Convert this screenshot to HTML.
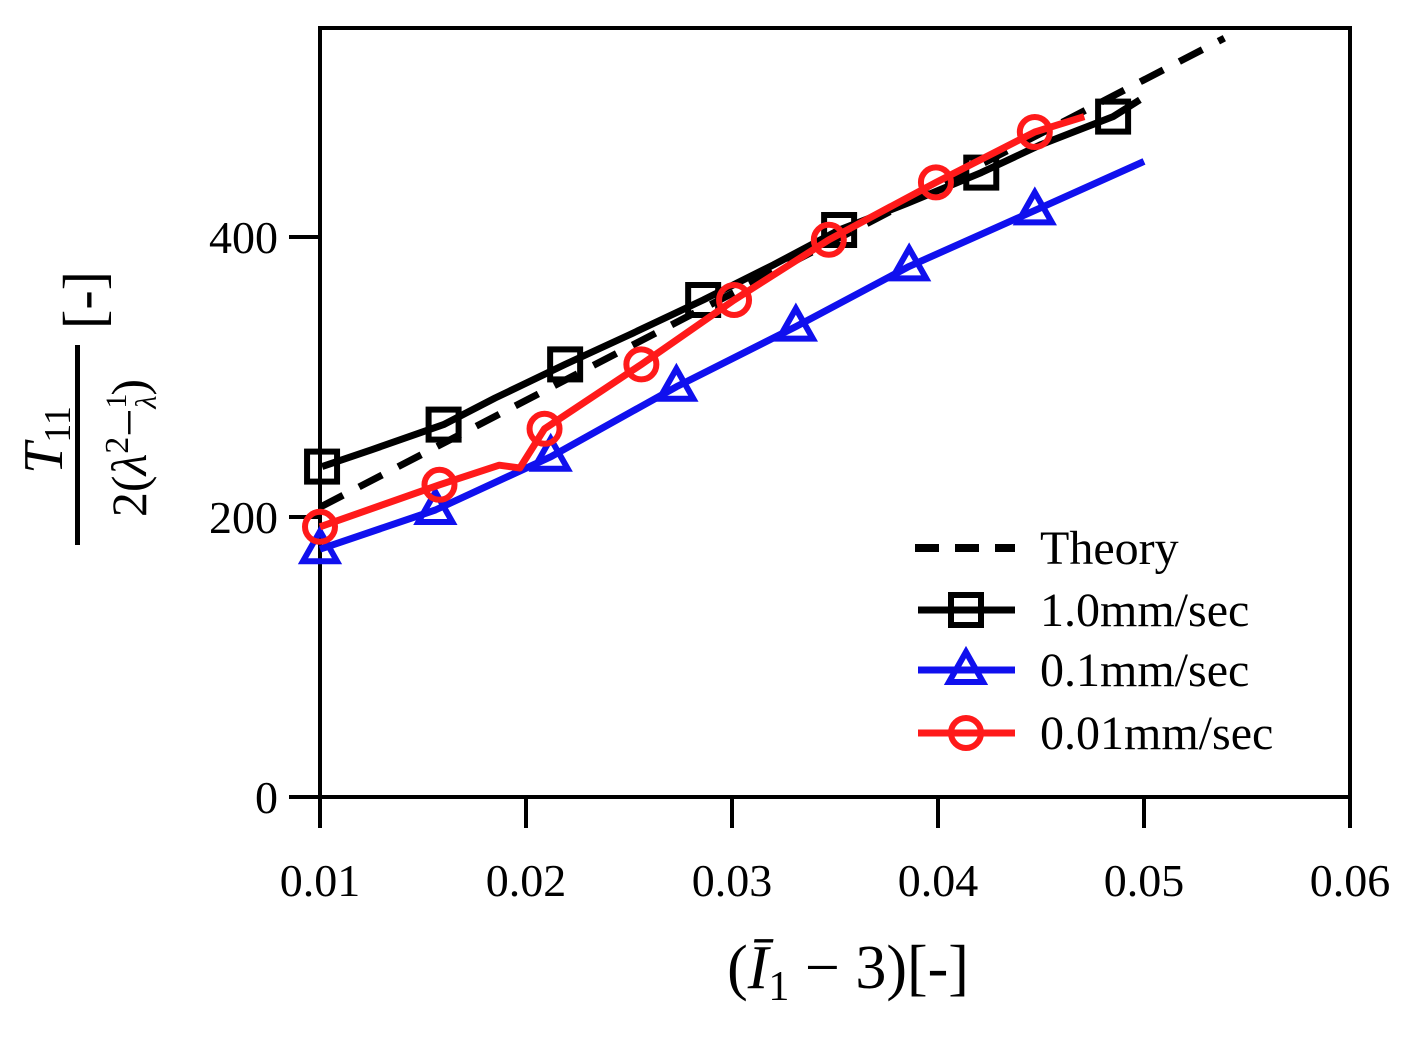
<!DOCTYPE html>
<html><head><meta charset="utf-8"><style>
body{margin:0;background:#fff}
svg{display:block;font-family:"Liberation Serif",serif}
</style></head><body>
<svg id="chart" width="1418" height="1038" viewBox="0 0 1418 1038">
<rect x="320" y="28" width="1030" height="769" fill="none" stroke="#000" stroke-width="4"/>
<g id="ticks"></g>
<g id="series"></g>
<text x="848" y="988" font-size="62" text-anchor="middle">(<tspan font-style="italic">Ī</tspan><tspan font-size="42" dy="12">1</tspan><tspan dy="-12"> − 3)[-]</tspan></text>
<g transform="rotate(-90)">
<text x="-440" y="62" font-size="56" text-anchor="middle" font-style="italic">T<tspan font-size="38" dy="8" font-style="normal">11</tspan></text>
<rect x="-545" y="75" width="200" height="5" fill="#000"/>
<text x="-448" y="146" font-size="50" text-anchor="middle">2(<tspan font-style="italic">λ</tspan><tspan font-size="34" dy="-18">2</tspan><tspan dy="18">−</tspan><tspan font-size="30" dy="-20">1</tspan><tspan font-size="30" dx="-15" dy="30" font-style="italic">λ</tspan><tspan dy="-10">)</tspan></text>
<text x="-300" y="103" font-size="58" text-anchor="middle">[-]</text>
</g>
<g id="legend"></g>
</svg>
<script>
const xTicks=[0.01,0.02,0.03,0.04,0.05,0.06];
const yTicks=[0,200,400];
const theoryX=[0.01,0.0539];
const theoryY=[207,542];
const fastX=[0.0101,0.0125,0.0160,0.0185,0.0219,0.025,0.0286,0.032,0.0352,0.0385,0.0421,0.045,0.0485,0.0498];
const fastY=[236,248,266,285,309,330,355,380,405,424,446,466,486,498];
const midX=[0.0100,0.0156,0.0212,0.0273,0.0331,0.0386,0.0447,0.0500];
const midY=[177,205,243,293,336,379,419,454];
const slowX=[0.0100,0.0158,0.0187,0.0197,0.0209,0.0256,0.0301,0.0347,0.0399,0.0447,0.0471];
const slowY=[193,223,237,235,263,309,355,398,439,475,486];
const fastMarkX=[0.0101,0.0160,0.0219,0.0286,0.0352,0.0421,0.0485];
const fastMarkY=[236,266,309,355,405,446,486];
const midMarkX=[0.0100,0.0156,0.0212,0.0273,0.0331,0.0386,0.0447];
const midMarkY=[177,205,243,293,336,379,419];
const slowMarkX=[0.0100,0.0158,0.0209,0.0256,0.0301,0.0347,0.0399,0.0447];
const slowMarkY=[193,223,263,309,355,398,439,475];

const NS="http://www.w3.org/2000/svg";
const sx=v=>320+(v-0.01)*20600;
const sy=v=>797-v*1.4;
function mk(tag,attrs,parent){const e=document.createElementNS(NS,tag);for(const k in attrs)e.setAttribute(k,attrs[k]);parent.appendChild(e);return e;}
const T=document.getElementById('ticks');
xTicks.forEach(v=>{
 const l=mk('line',{x1:sx(v),x2:sx(v),y1:797,y2:828,stroke:'#000','stroke-width':4},T);
 
 
 const t=mk('text',{x:sx(v),y:896,'font-size':46,'text-anchor':'middle'},T);
 t.textContent=v.toFixed(2);
 
 
});
yTicks.forEach(v=>{
 const l=mk('line',{x1:289,x2:320,y1:sy(v),y2:sy(v),stroke:'#000','stroke-width':4},T);
 
 
 const t=mk('text',{x:278,y:sy(v)+16,'font-size':46,'text-anchor':'end'},T);
 t.textContent=String(v);
 
 
});
const S=document.getElementById('series');
function pts(xs,ys){return xs.map((x,i)=>sx(x)+','+sy(ys[i])).join(' ');}
function marker(kind,cx,cy,color,parent){
 let e;
 if(kind==='sq')e=mk('rect',{x:cx-15,y:cy-15,width:30,height:30,fill:'none',stroke:color,'stroke-width':6},parent);
 else if(kind==='tri')e=mk('polygon',{points:`${cx},${cy-18} ${cx-17},${cy+12} ${cx+17},${cy+12}`,fill:'none',stroke:color,'stroke-width':6},parent);
 else e=mk('circle',{cx:cx,cy:cy,r:15,fill:'none',stroke:color,'stroke-width':6},parent);
 return e;
}
const th=mk('polyline',{points:pts(theoryX,theoryY),fill:'none',stroke:'#000','stroke-width':7,'stroke-dasharray':'26,18'},S);


const defs=[[midX,midY,midMarkX,midMarkY,'#1010ee','tri','series-0.1mm-sec'],[fastX,fastY,fastMarkX,fastMarkY,'#000','sq','series-1.0mm-sec'],[slowX,slowY,slowMarkX,slowMarkY,'#ff1a1a','circ','series-0.01mm-sec']];
defs.forEach(d=>{
 const g=mk('g',{},S);
 
 
 mk('polyline',{points:pts(d[0],d[1]),fill:'none',stroke:d[4],'stroke-width':7,'stroke-linejoin':'round'},g);
 d[2].forEach((x,i)=>{const m=marker(d[5],sx(x),sy(d[3][i]),d[4],g);
  
  });
});
const L=document.getElementById('legend');
const leg=[['Theory','#000',null,548],['1.0mm/sec','#000','sq',610],['0.1mm/sec','#1010ee','tri',670],['0.01mm/sec','#ff1a1a','circ',733]];
leg.forEach(e=>{
 const g=mk('g',{},L);
 
 
 if(!e[2])mk('line',{x1:915,x2:1015,y1:e[3],y2:e[3],stroke:e[1],'stroke-width':8,'stroke-dasharray':'24,16'},g);
 else{mk('line',{x1:918,x2:1015,y1:e[3],y2:e[3],stroke:e[1],'stroke-width':7},g);marker(e[2],966,e[3],e[1],g);}
 const t=mk('text',{x:1040,y:e[3]+16,'font-size':48},g);
 t.textContent=e[0];
});
</script>
</body></html>
